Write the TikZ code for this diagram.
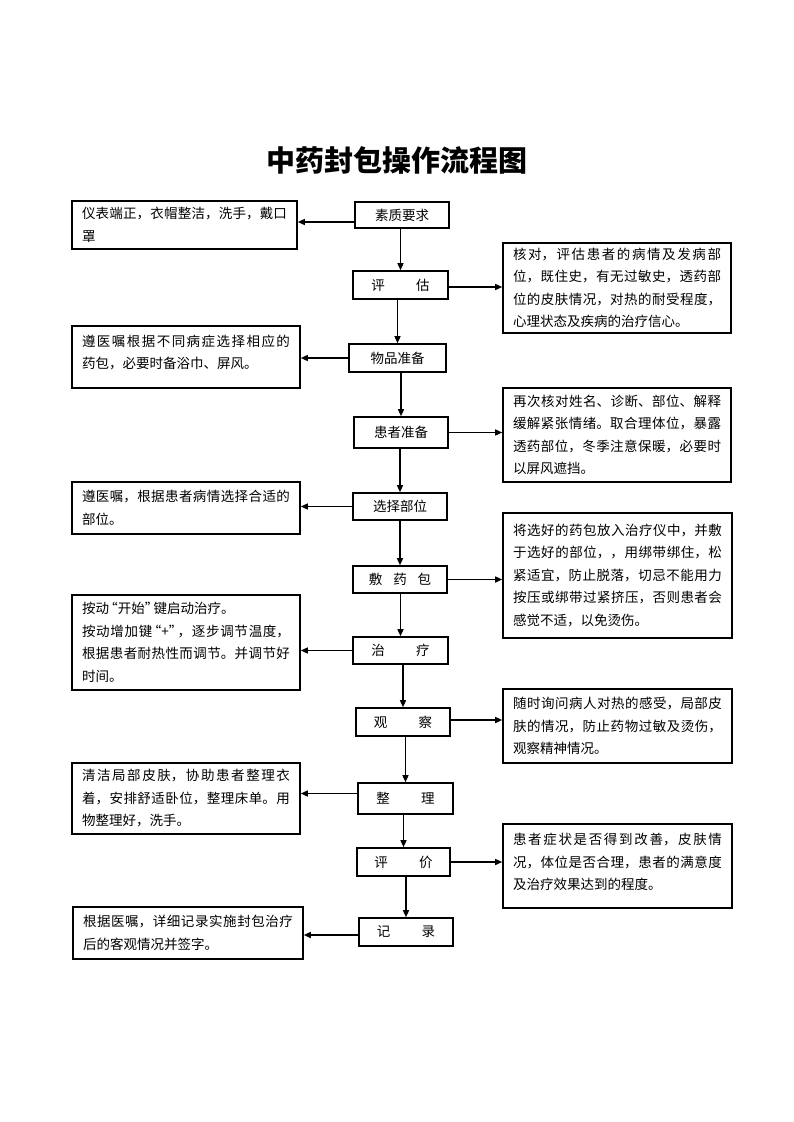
\documentclass[tikz,border=0pt]{standalone}
\usepackage{fontspec}
\setmainfont{Noto Sans CJK SC}
\usetikzlibrary{arrows.meta}
\XeTeXlinebreaklocale "zh"
\XeTeXlinebreakskip=0pt plus 3pt
\newcommand\bodysize{\fontsize{13.5}{22.5}\selectfont}
\newcommand\myopenq{\makebox[0.65em][r]{“}}
\newcommand\mycloseq{\makebox[0.65em][l]{”}}
\tikzset{
  stepbox/.style={draw, line width=1.6pt, inner sep=0pt, font=\bodysize},
  textbox/.style={draw, line width=1.6pt, inner xsep=10pt, inner ysep=2pt,
    text width=#1, align=justify, font=\bodysize},
  arr/.style={-{Triangle[length=7pt,width=6pt]}, line width=1.4pt},
}
\begin{document}
\begin{tikzpicture}[x=1pt,y=-1pt]
\useasboundingbox (0,0) rectangle (793,1122);
\fill[white] (0,0) rectangle (793,1122);

\node[font=\fontsize{29}{33}\selectfont\bfseries] (title) at (397,160) {中药封包操作流程图};

% main steps
\node[stepbox, minimum width=94pt, minimum height=26pt] (A) at (402,215) {素质要求};
\node[stepbox, minimum width=95pt, minimum height=28pt] (B) at (400.5,285) {评\hspace{2.3em}估};
\node[stepbox, minimum width=97pt, minimum height=28pt] (C) at (397.5,358) {物品准备};
\node[stepbox, minimum width=94pt, minimum height=31pt] (D) at (401,432.5) {患者准备};
\node[stepbox, minimum width=94pt, minimum height=27pt] (E) at (400,506.5) {选择部位};
\node[stepbox, minimum width=94pt, minimum height=27pt] (F) at (400,579.5) {敷\hspace{0.8em}药\hspace{0.8em}包};
\node[stepbox, minimum width=95pt, minimum height=27pt] (G) at (400.5,650.5) {治\hspace{2.3em}疗};
\node[stepbox, minimum width=94pt, minimum height=28pt] (H) at (403,722) {观\hspace{2.3em}察};
\node[stepbox, minimum width=95pt, minimum height=31pt] (I) at (405.5,798.5) {整\hspace{2.3em}理};
\node[stepbox, minimum width=93pt, minimum height=28pt] (J) at (403.5,862) {评\hspace{2.3em}价};
\node[stepbox, minimum width=94pt, minimum height=28pt] (K) at (406,932) {记\hspace{2.3em}录};

% left boxes
\node[textbox=205pt, minimum height=48pt] (L1) at (184.5,225)
  {仪表端正，衣帽整洁，洗手，戴口\linebreak 罩};
\node[textbox=208pt, minimum height=62pt] (L2) at (186,357)
  {遵医嘱根据不同病症选择相应的\linebreak 药包，必要时备浴巾、屏风。\\[-12.5pt]\mbox{}};
\node[textbox=208pt, minimum height=52pt] (L3) at (186,508)
  {遵医嘱，根据患者病情选择合适的\linebreak 部位。};
\node[textbox=208pt, minimum height=95pt] (L4) at (186,642.5)
  {按动\myopenq 开始\mycloseq 键启动治疗。\\按动增加键\myopenq +\mycloseq ，逐步调节温度，\linebreak 根据患者耐热性而调节。并调节好\linebreak 时间。};
\node[textbox=208pt, minimum height=71pt] (L5) at (186,798.5)
  {清洁局部皮肤，协助患者整理衣\linebreak 着，安排舒适卧位，整理床单。用\linebreak 物整理好，洗手。};
\node[textbox=210pt, minimum height=52pt] (L6) at (188,933)
  {根据医嘱，详细记录实施封包治疗\linebreak 后的客观情况并签字。};

% right boxes
\node[textbox=208pt, minimum height=90pt] (R1) at (617,288)
  {核对，评估患者的病情及发病部\linebreak 位，既住史，有无过敏史，透药部\linebreak 位的皮肤情况，对热的耐受程度，\linebreak 心理状态及疾病的治疗信心。};
\node[textbox=208pt, minimum height=94pt] (R2) at (617,435)
  {再次核对姓名、诊断、部位、解释\linebreak 缓解紧张情绪。取合理体位，暴露\linebreak 透药部位，冬季注意保暖，必要时\linebreak 以屏风遮挡。};
\node[textbox=209pt, minimum height=125pt] (R3) at (617.5,575.5)
  {将选好的药包放入治疗仪中，并敷\linebreak 于选好的部位，，用绑带绑住，松\linebreak 紧适宜，防止脱落，切忌不能用力\linebreak 按压或绑带过紧挤压，否则患者会\linebreak 感觉不适，以免烫伤。};
\node[textbox=209pt, minimum height=74pt] (R4) at (617.5,726)
  {随时询问病人对热的感受，局部皮\linebreak 肤的情况，防止药物过敏及烫伤，\linebreak 观察精神情况。};
\node[textbox=209pt, minimum height=84pt] (R5) at (617.5,866)
  {患者症状是否得到改善，皮肤情\linebreak 况，体位是否合理，患者的满意度\linebreak 及治疗效果达到的程度。\\[-14pt]\mbox{}};

% vertical arrows
\draw[arr] (A.south -| B.north) -- (B.north);
\draw[arr] (B.south -| C.north) -- (C.north);
\draw[arr] (C.south -| D.north) -- (D.north);
\draw[arr] (D.south -| E.north) -- (E.north);
\draw[arr] (E.south -| F.north) -- (F.north);
\draw[arr] (F.south -| G.north) -- (G.north);
\draw[arr] (G.south -| H.north) -- (H.north);
\draw[arr] (H.south -| I.north) -- (I.north);
\draw[arr] (I.south -| J.north) -- (J.north);
\draw[arr] (J.south -| K.north) -- (K.north);

% left arrows
\draw[arr] ([yshift=-7pt]A.west) -- ([yshift=-7pt]A.west -| L1.east);
\draw[arr] (C.west) -- (C.west -| L2.east);
\draw[arr] (E.west) -- (E.west -| L3.east);
\draw[arr] (G.west) -- (G.west -| L4.east);
\draw[arr] ([yshift=5pt]I.west) -- ([yshift=5pt]I.west -| L5.east);
\draw[arr] ([yshift=-3pt]K.west) -- ([yshift=-3pt]K.west -| L6.east);

% right arrows
\draw[arr] ([yshift=-2pt]B.east) -- ([yshift=-2pt]B.east -| R1.west);
\draw[arr] (D.east) -- (D.east -| R2.west);
\draw[arr] (F.east) -- (F.east -| R3.west);
\draw[arr] ([yshift=2pt]H.east) -- ([yshift=2pt]H.east -| R4.west);
\draw[arr] (J.east) -- (J.east -| R5.west);
\end{tikzpicture}
\end{document}
